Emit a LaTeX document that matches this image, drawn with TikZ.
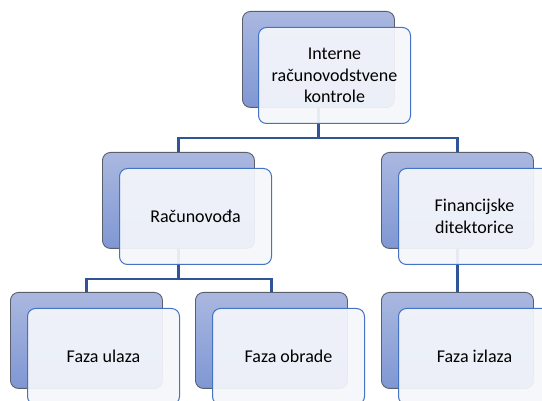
\documentclass[tikz,border=0pt]{standalone}
\usepackage{fontspec}
\setmainfont{Carlito}
\definecolor{backtop}{HTML}{AAB8E0}
\definecolor{backbot}{HTML}{7F97D3}
\definecolor{backedge}{HTML}{5A5F6A}
\definecolor{frontfill}{HTML}{F4F6FB}
\definecolor{frontedge}{HTML}{4472C4}
\definecolor{linkcol}{HTML}{2F5597}
\tikzset{
  backbox/.style={draw=backedge, line width=0.9pt, rounded corners=8pt,
    top color=backtop, bottom color=backbot, minimum width=152pt,
    minimum height=96pt, inner sep=0pt, anchor=north west},
  frontbox/.style={draw=frontedge, line width=1pt, rounded corners=8pt,
    fill=frontfill, fill opacity=0.93, text opacity=1, minimum width=152pt,
    minimum height=96pt, inner sep=0pt, anchor=north west,
    align=center, font=\fontsize{18}{21.5}\selectfont},
  link/.style={draw=linkcol, line width=2.4pt}
}
\begin{document}
\begin{tikzpicture}[x=1pt,y=-1pt]
\useasboundingbox (0,0) rectangle (542,401);
\clip (0,0) rectangle (542,401);
% back boxes
\node[backbox] (b0) at (242,11) {};
\node[backbox] (b1) at (102,152) {};
\node[backbox] (b2) at (381,152) {};
\node[backbox] (b3) at (10,292) {};
\node[backbox] (b4) at (195,292) {};
\node[backbox] (b5) at (381,292) {};
% connectors
\coordinate (j0) at ([yshift=-30pt]b0.south);
\coordinate (j1) at ([yshift=-30pt]b1.south);
\draw[link] (b0.south) -- (j0) -| (b1.north);
\draw[link] (j0) -| (b2.north);
\draw[link] (b1.south) -- (j1) -| (b3.north);
\draw[link] (j1) -| (b4.north);
\draw[link] (b2.south) -- (b5.north);
% front boxes
\node[frontbox] (f0) at (258,27) {Interne\\računovodstvene\\kontrole};
\node[frontbox] (f1) at (119,168) {Računovođa};
\node[frontbox] (f2) at (398,168) {Financijske\\ditektorice};
\node[frontbox] (f3) at (27,308) {Faza ulaza};
\node[frontbox] (f4) at (212,308) {Faza obrade};
\node[frontbox] (f5) at (398,308) {Faza izlaza};
\end{tikzpicture}
\end{document}
